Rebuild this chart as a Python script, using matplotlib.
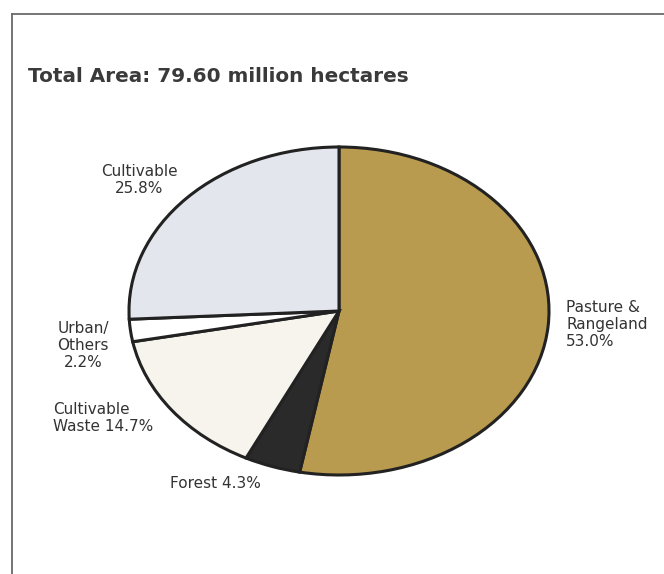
import matplotlib.pyplot as plt
from matplotlib.lines import Line2D

# land use shares, clockwise from 12 o'clock
categories = ["Pasture &\nRangeland", "Forest", "Cultivable\nWaste", "Urban/\nOthers", "Cultivable"]
shares = [53.0, 4.3, 14.7, 2.2, 25.8]
colours = ["#b99b4f", "#2a2a2a", "#f6f4ec", "#ffffff", "#e4e6ee"]
title = "Total Area: 79.60 million hectares"

W, H = 664, 574
fig = plt.figure(figsize=(W / 100, H / 100), dpi=100)
fig.patch.set_facecolor("white")

# frame of the scanned page (top and left rules only)
fig.add_artist(Line2D([12 / W, 12 / W], [0, 1 - 14 / H], color="#6a6a6a", lw=1.3))
fig.add_artist(Line2D([12 / W, 1], [1 - 14 / H, 1 - 14 / H], color="#6a6a6a", lw=1.3))

# ellipse box in pixels: x 129..549, y 147..475
ax = fig.add_axes([129 / W, 1 - 475 / H, 420 / W, 328 / H])
ax.pie(shares, colors=colours, startangle=90, counterclock=False,
       wedgeprops=dict(edgecolor="#222222", linewidth=2.2))
ax.set_aspect("auto")
ax.set_xlim(-1.0, 1.0)
ax.set_ylim(-1.0, 1.0)
ax.axis("off")

fnt = "DejaVu Sans"
tcol = "#333333"

def pct(i):
    return f"{shares[i]:.1f}%"

def px(x, y):
    return x / W, 1 - y / H

fig.text(*px(28, 82), title, fontsize=14.4, fontweight="bold", family=fnt,
         color="#3a3a3a", ha="left", va="baseline")

fs = 11
ls = 1.15
fig.text(*px(566, 300), f"{categories[0]}\n{pct(0)}", fontsize=fs, family=fnt,
         color=tcol, ha="left", va="top", linespacing=ls)
fig.text(*px(170, 476), f"{categories[1]} {pct(1)}", fontsize=fs, family=fnt,
         color=tcol, ha="left", va="top")
fig.text(*px(53, 402), f"{categories[2]} {pct(2)}", fontsize=fs,
         family=fnt, color=tcol, ha="left", va="top", linespacing=ls)
fig.text(*px(83, 321), f"{categories[3]}\n{pct(3)}", fontsize=fs, family=fnt,
         color=tcol, ha="center", va="top", linespacing=ls)
fig.text(*px(139, 164), f"{categories[4]}\n{pct(4)}", fontsize=fs, family=fnt,
         color=tcol, ha="center", va="top", linespacing=ls)

fig.savefig("out.png", dpi=100, facecolor="white")
